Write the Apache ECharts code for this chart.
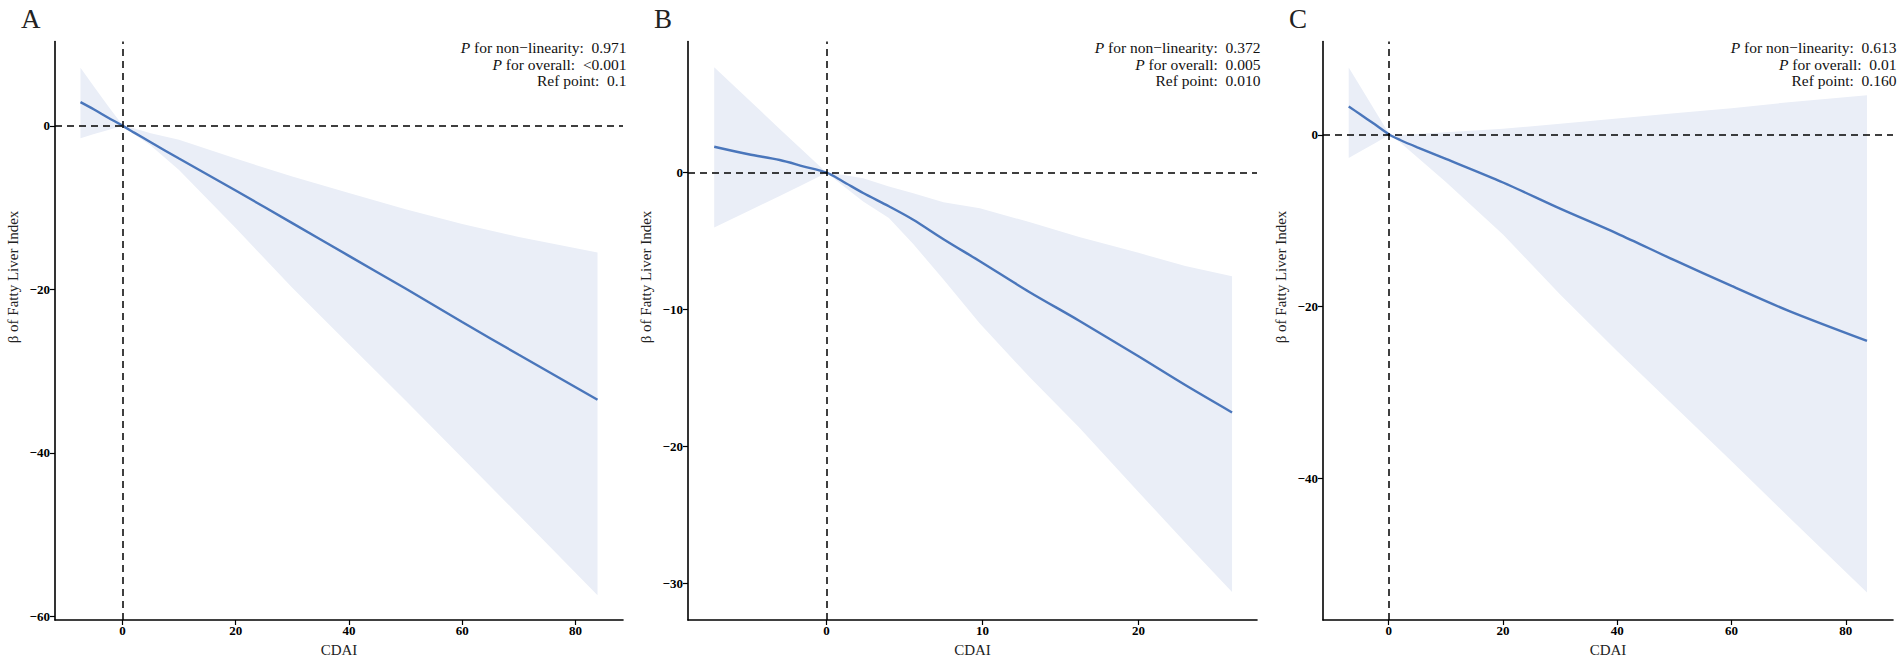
<!DOCTYPE html>
<html>
<head>
<meta charset="utf-8">
<title>CDAI and Fatty Liver Index</title>
<script src="https://cdn.jsdelivr.net/npm/echarts@6/dist/echarts.min.js"></script>
<style>
  html, body { margin: 0; padding: 0; background: #fff; }
  #chart { width: 1902px; height: 662px; }
</style>
</head>
<body>
<div id="chart"></div>
<script>
// Panel A
const xA = [-7.4, -5, -2.5, 0.1, 2, 5, 10, 20, 30, 40, 50, 60, 70, 83.9];
const fitA = [2.9, 2.0, 1.0, 0, -0.8, -2.0, -4.0, -7.9, -11.9, -15.9, -19.9, -24.0, -28.0, -33.5];
const lowA = [-1.5, -1.0, -0.5, 0, -1.0, -2.4, -5.4, -12.5, -19.8, -26.7, -33.6, -40.6, -47.6, -57.4];
const upA = [7.1, 4.8, 2.4, 0, -0.3, -0.9, -1.7, -4.0, -6.2, -8.2, -10.2, -12.0, -13.6, -15.5];
const xTicksA = [0, 20, 40, 60, 80];
const yTicksA = [-60, -40, -20, 0];
const statsA = ['0.971', '<0.001', '0.1'];

// Panel B
const xB = [-7.2, -5, -3, -1.5, 0.01, 1, 2.35, 4, 5.56, 7.5, 9.83, 13, 16.2, 20, 23, 26];
const fitB = [1.9, 1.35, 0.93, 0.47, 0, -0.6, -1.48, -2.45, -3.43, -4.85, -6.46, -8.7, -10.8, -13.4, -15.5, -17.5];
const lowB = [-4.0, -2.8, -1.7, -0.85, 0, -0.9, -2.1, -3.3, -5.2, -7.8, -11.0, -14.9, -18.6, -23.3, -27.0, -30.6];
const upB = [7.7, 5.35, 3.2, 1.6, 0, -0.15, -0.4, -1.0, -1.5, -2.15, -2.6, -3.6, -4.7, -5.85, -6.8, -7.55];
const xTicksB = [0, 10, 20];
const yTicksB = [-30, -20, -10, 0];
const statsB = ['0.372', '0.005', '0.010'];

// Panel C
const xC = [-7.0, -5, -2.5, 0.16, 2, 5, 10, 20, 30, 40, 50, 60, 70, 83.7];
const fitC = [3.3, 2.4, 1.25, 0, -0.6, -1.45, -2.8, -5.55, -8.6, -11.5, -14.6, -17.6, -20.5, -24.0];
const lowC = [-2.7, -1.95, -1.0, 0, -0.9, -2.6, -5.5, -11.6, -18.6, -25.2, -31.6, -38.0, -44.5, -53.3];
const upC = [7.85, 5.66, 2.92, 0, 0.02, 0.1, 0.3, 0.7, 1.3, 1.9, 2.5, 3.1, 3.8, 4.6];
const xTicksC = [0, 20, 40, 60, 80];
const yTicksC = [-40, -20, 0];
const statsC = ['0.613', '0.01', '0.160'];

const panelLetters = ['A', 'B', 'C'];
const statNames = ['for non\u2212linearity:', 'for overall:', 'Ref point:'];

// 版式：每个面板的绘图区位置和坐标范围
const layout = [
  { left: 55, width: 568, xMin: -11.9, xMax: 88.4, yMin: -60.44, yMax: 10.32 },
  { left: 688, width: 569, xMin: -8.88, xMax: 27.6, yMin: -32.65, yMax: 9.58 },
  { left: 1323, width: 570, xMin: -11.5, xMax: 88.25, yMin: -56.5, yMax: 10.87 }
];
const gridTop = 41.5, gridHeight = 579.5;

const panels = [
  { x: xA, fit: fitA, low: lowA, up: upA, xt: xTicksA, yt: yTicksA, stats: statsA },
  { x: xB, fit: fitB, low: lowB, up: upB, xt: xTicksB, yt: yTicksB, stats: statsB },
  { x: xC, fit: fitC, low: lowC, up: upC, xt: xTicksC, yt: yTicksC, stats: statsC }
];

const FONT = '"Liberation Serif", "Times New Roman", serif';
const LINE_COLOR = '#4a76bb';
const BAND_COLOR = '#eaeef7';
const minus = v => (v < 0 ? '\u2212' + Math.abs(v) : String(v));

const chart = echarts.init(document.getElementById('chart'), null, { renderer: 'svg' });

const grid = [], xAxis = [], yAxis = [], series = [], graphic = [];

panels.forEach((p, i) => {
  const L = layout[i];
  grid.push({ left: L.left, top: gridTop, width: L.width, height: gridHeight, containLabel: false });

  const axisCommon = {
    type: 'value',
    gridIndex: i,
    splitLine: { show: false },
    axisLine: { show: true, onZero: false, lineStyle: { color: '#000', width: 1.6 } },
    axisTick: { show: true, length: 5, lineStyle: { color: '#000', width: 1.2 } },
    axisLabel: { color: '#000', fontFamily: FONT, fontWeight: 'bold', fontSize: 13, formatter: minus }
  };

  xAxis.push({
    ...axisCommon,
    min: L.xMin, max: L.xMax,
    axisTick: { ...axisCommon.axisTick, customValues: p.xt },
    axisLabel: { ...axisCommon.axisLabel, margin: 4, customValues: p.xt },
    name: 'CDAI', nameLocation: 'middle', nameGap: 22,
    nameTextStyle: { color: '#222', fontFamily: FONT, fontSize: 15 }
  });
  yAxis.push({
    ...axisCommon,
    min: L.yMin, max: L.yMax,
    axisTick: { ...axisCommon.axisTick, customValues: p.yt },
    axisLabel: { ...axisCommon.axisLabel, margin: 5, customValues: p.yt }
  });

  // 置信带：上界正序 + 下界逆序 组成一个多边形，坐标由 api.coord 换算
  const bandRows = p.x.map((x, k) => [x, p.low[k], p.up[k]]);
  series.push({
    type: 'custom', xAxisIndex: i, yAxisIndex: i, silent: true, animation: false, z: 1,
    data: bandRows,
    encode: { x: 0, y: [1, 2] },
    renderItem: (params, api) => {
      if (params.dataIndex !== 0) return null;
      const top = bandRows.map(r => api.coord([r[0], r[2]]));
      const bottom = bandRows.map(r => api.coord([r[0], r[1]])).reverse();
      return {
        type: 'polygon',
        shape: { points: top.concat(bottom) },
        style: { fill: BAND_COLOR, stroke: 'none' }
      };
    }
  });

  series.push({
    type: 'line', xAxisIndex: i, yAxisIndex: i,
    data: p.x.map((x, k) => [x, p.fit[k]]),
    symbol: 'none', smooth: 0.3, silent: true, animation: false, z: 3,
    lineStyle: { color: LINE_COLOR, width: 2.4 },
    markLine: {
      silent: true, symbol: ['none', 'none'], animation: false,
      label: { show: false },
      lineStyle: { color: '#000', type: [7, 5], width: 1.5 },
      data: [{ xAxis: 0 }, { yAxis: 0 }]
    }
  });

  // 面板字母
  graphic.push({
    type: 'text', left: L.left - 34, top: 5, z: 100,
    style: { text: panelLetters[i], font: '27px ' + FONT, fill: '#222' }
  });
  // y 轴标题
  graphic.push({
    type: 'text', x: L.left - 41.7, y: 277, rotation: Math.PI / 2, z: 100,
    style: { text: '\u03b2 of Fatty Liver Index', font: '15px ' + FONT, fill: '#222', align: 'center', verticalAlign: 'middle' }
  });
  // 右上角统计说明
  const lineYs = [47.5, 64, 80.5];
  p.stats.forEach((val, k) => {
    const head = k < 2 ? '{i|P} ' + statNames[k] : statNames[k];
    graphic.push({
      type: 'text', x: L.left + L.width + 3.5, y: lineYs[k], z: 100,
      style: {
        text: head + ' \u00a0' + val, font: '15.5px ' + FONT, fill: '#111',
        align: 'right', verticalAlign: 'middle',
        rich: { i: { fontStyle: 'italic', fontFamily: FONT, fontSize: 15.5, fill: '#111' } }
      }
    });
  });
});

chart.setOption({
  animation: false,
  backgroundColor: '#fff',
  grid, xAxis, yAxis, series, graphic
});
</script>
</body>
</html>
